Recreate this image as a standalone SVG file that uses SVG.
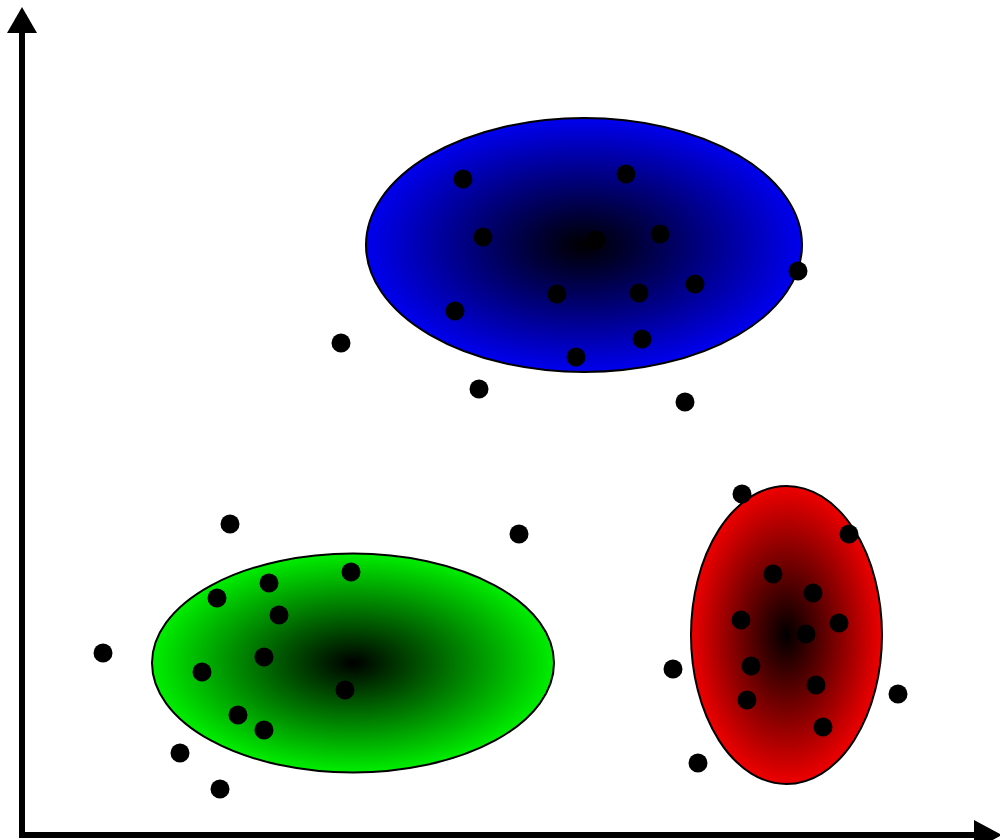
<svg xmlns="http://www.w3.org/2000/svg" width="1000" height="840" viewBox="0 0 1000 840">
<style>
.ax{stroke:#000;stroke-width:6;fill:none}
.cl{stroke:#000;stroke-width:2}
.pt{fill:#000}
</style>
<defs>
<radialGradient id="gb" cx="0.5" cy="0.5" r="0.5"><stop offset="0" stop-color="#000"/><stop offset="1" stop-color="#0000ee"/></radialGradient>
<radialGradient id="gg" cx="0.5" cy="0.5" r="0.5"><stop offset="0" stop-color="#000"/><stop offset="1" stop-color="#00ee00"/></radialGradient>
<radialGradient id="gr" cx="0.5" cy="0.5" r="0.5"><stop offset="0" stop-color="#000"/><stop offset="1" stop-color="#ee0000"/></radialGradient>
</defs>
<rect width="1000" height="840" fill="#fff"/>
<g id="axes">
<line class="ax" x1="22" y1="30" x2="22" y2="835"/>
<line class="ax" x1="19" y1="835" x2="978" y2="835"/>
<polygon points="7,33 37,33 22,7" fill="#000"/>
<polygon points="974,820 974,850 1002,835" fill="#000"/>
</g>
<g id="cluster-blue">
<ellipse class="cl" cx="584" cy="245" rx="218" ry="127" fill="url(#gb)"/>
<circle class="pt" cx="463" cy="179" r="9.5"/>
<circle class="pt" cx="626" cy="174" r="9.5"/>
<circle class="pt" cx="483" cy="237" r="9.5"/>
<circle class="pt" cx="596" cy="240" r="9.5"/>
<circle class="pt" cx="660" cy="234" r="9.5"/>
<circle class="pt" cx="798" cy="271" r="9.5"/>
<circle class="pt" cx="557" cy="294" r="9.5"/>
<circle class="pt" cx="639" cy="293" r="9.5"/>
<circle class="pt" cx="695" cy="284" r="9.5"/>
<circle class="pt" cx="455" cy="311" r="9.5"/>
<circle class="pt" cx="642" cy="339" r="9.5"/>
<circle class="pt" cx="576" cy="357" r="9.5"/>
<circle class="pt" cx="479" cy="389" r="9.5"/>
<circle class="pt" cx="685" cy="402" r="9.5"/>
<circle class="pt" cx="341" cy="343" r="9.5"/>
</g>
<g id="cluster-green">
<ellipse class="cl" cx="353" cy="663" rx="201" ry="109.5" fill="url(#gg)"/>
<circle class="pt" cx="230" cy="524" r="9.5"/>
<circle class="pt" cx="519" cy="534" r="9.5"/>
<circle class="pt" cx="351" cy="572" r="9.5"/>
<circle class="pt" cx="269" cy="583" r="9.5"/>
<circle class="pt" cx="217" cy="598" r="9.5"/>
<circle class="pt" cx="279" cy="615" r="9.5"/>
<circle class="pt" cx="103" cy="653" r="9.5"/>
<circle class="pt" cx="264" cy="657" r="9.5"/>
<circle class="pt" cx="202" cy="672" r="9.5"/>
<circle class="pt" cx="345" cy="690" r="9.5"/>
<circle class="pt" cx="238" cy="715" r="9.5"/>
<circle class="pt" cx="264" cy="730" r="9.5"/>
<circle class="pt" cx="180" cy="753" r="9.5"/>
<circle class="pt" cx="220" cy="789" r="9.5"/>
</g>
<g id="cluster-red">
<ellipse class="cl" cx="786.5" cy="635" rx="95.5" ry="149" fill="url(#gr)"/>
<circle class="pt" cx="742" cy="494" r="9.5"/>
<circle class="pt" cx="849" cy="534" r="9.5"/>
<circle class="pt" cx="773" cy="574" r="9.5"/>
<circle class="pt" cx="813" cy="593" r="9.5"/>
<circle class="pt" cx="741" cy="620" r="9.5"/>
<circle class="pt" cx="839" cy="623" r="9.5"/>
<circle class="pt" cx="806" cy="634" r="9.5"/>
<circle class="pt" cx="673" cy="669" r="9.5"/>
<circle class="pt" cx="751" cy="666" r="9.5"/>
<circle class="pt" cx="816" cy="685" r="9.5"/>
<circle class="pt" cx="747" cy="700" r="9.5"/>
<circle class="pt" cx="898" cy="694" r="9.5"/>
<circle class="pt" cx="823" cy="727" r="9.5"/>
<circle class="pt" cx="698" cy="763" r="9.5"/>
</g>
</svg>
